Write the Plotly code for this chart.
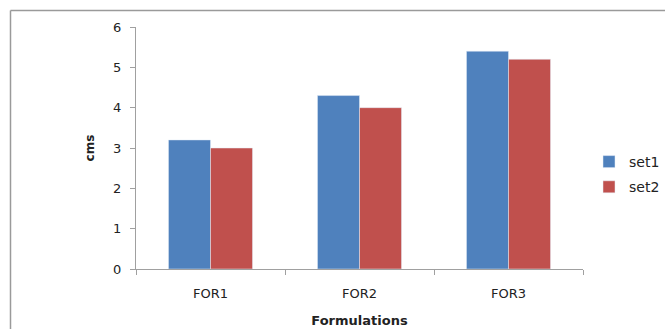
import plotly.graph_objects as go

categories = ["FOR1", "FOR2", "FOR3"]
set1 = [3.2, 4.3, 5.4]
set2 = [3.0, 4.0, 5.2]
y_ticks = [0, 1, 2, 3, 4, 5, 6]

W, H = 665, 329
L, R, T, B = 136, 82, 27, 60
pw, ph = W - L - R, H - T - B

fig = go.Figure()
fig.add_trace(go.Bar(x=categories, y=set1, name="set1", marker_color="#4F81BD",
                     legendgroup="a"))
fig.add_trace(go.Bar(x=categories, y=set2, name="set2", marker_color="#C0504D",
                     legendgroup="b"))

# outer frame of the chart area (top and left edges)
px = lambda v: (v - L) / pw
py = lambda v: 1 - (v - T) / ph
fig.add_shape(type="line", xref="paper", yref="paper",
              x0=px(10.5), x1=px(W + 5), y0=py(10.5), y1=py(10.5),
              line=dict(color="#9a9a9a", width=1.5))
fig.add_shape(type="line", xref="paper", yref="paper",
              x0=px(10.5), x1=px(10.5), y0=py(10.5), y1=py(H + 5),
              line=dict(color="#9a9a9a", width=1.5))

fig.update_layout(
    width=W, height=H, autosize=False,
    margin=dict(l=L, r=R, t=T, b=B, autoexpand=False),
    paper_bgcolor="white", plot_bgcolor="white",
    barmode="group", bargap=0.436, bargroupgap=0,
    font=dict(family="DejaVu Sans", size=12, color="#222222"),
    showlegend=True,
    legend=dict(x=px(589), y=py(146), xanchor="left", yanchor="top",
                font=dict(family="DejaVu Sans", size=14, color="#222222"),
                tracegroupgap=4, traceorder="grouped", bgcolor="rgba(0,0,0,0)"),
    xaxis=dict(
        type="category", tickson="boundaries", ticks="outside", ticklen=5,
        tickcolor="#a0a0a0", showline=True, linecolor="#a0a0a0", linewidth=1,
        showgrid=False, ticklabelstandoff=12,
        tickfont=dict(family="DejaVu Sans", size=13, color="#222222"),
        title=dict(text="<b>Formulations</b>", standoff=16,
                   font=dict(family="DejaVu Sans", size=13, color="#222222")),
    ),
    yaxis=dict(
        range=[0, 6], tickvals=y_ticks, ticks="outside", ticklen=5,
        tickcolor="#a0a0a0", showline=True, linecolor="#a0a0a0", linewidth=1,
        showgrid=False, zeroline=False, ticklabelstandoff=6,
        tickfont=dict(family="DejaVu Sans", size=13, color="#222222"),
        title=dict(text="<b>cms</b>", standoff=15,
                   font=dict(family="DejaVu Sans", size=12, color="#222222")),
    ),
)

fig.write_html("out.html", config={"responsive": False})
